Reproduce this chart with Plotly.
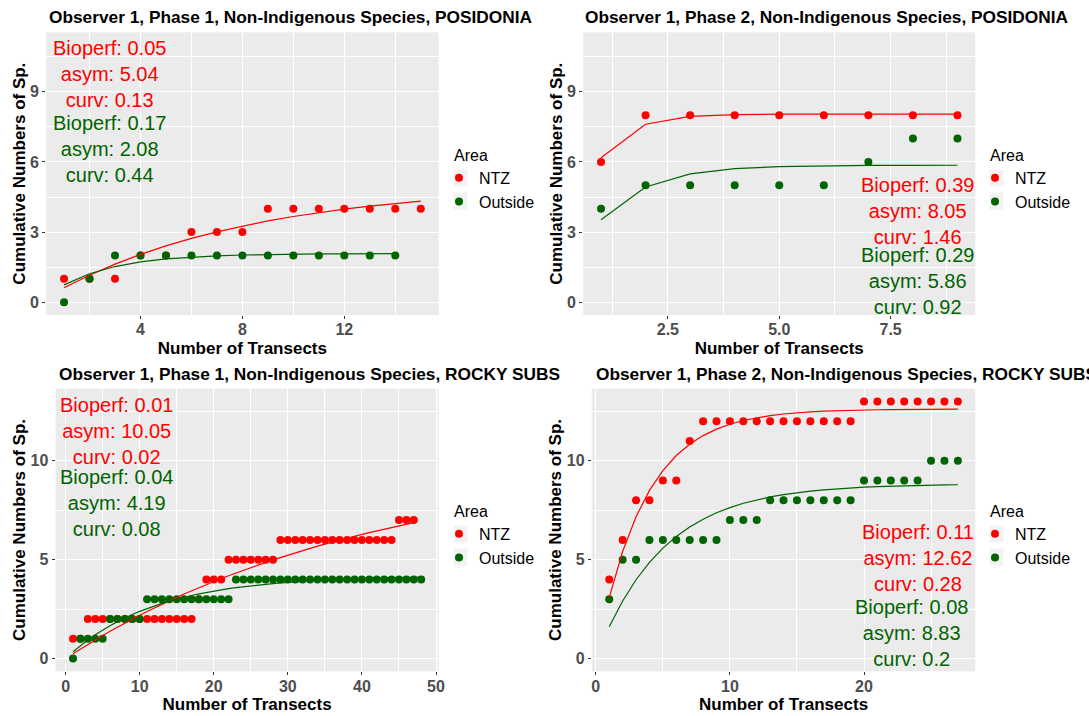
import math
import plotly.graph_objects as go

FONT = "Liberation Sans, Arial, Helvetica, sans-serif"
NTZ_COLOR = "#FF0000"
OUT_COLOR = "#006400"
KEY_BG = "#F2F2F2"
W, H = 1089, 716

# ---------------- data ----------------
# Observer 1, Phase 1, POSIDONIA
p1_ntz_x = [1, 2, 3, 4, 5, 6, 7, 8, 9, 10, 11, 12, 13, 14, 15]
p1_ntz_y = [1, 1, 1, 2, 2, 3, 3, 3, 4, 4, 4, 4, 4, 4, 4]
p1_out_x = [1, 2, 3, 4, 5, 6, 7, 8, 9, 10, 11, 12, 13, 14]
p1_out_y = [0, 1, 2, 2, 2, 2, 2, 2, 2, 2, 2, 2, 2, 2]

# Observer 1, Phase 2, POSIDONIA
p2_ntz_x = [1, 2, 3, 4, 5, 6, 7, 8, 9]
p2_ntz_y = [6, 8, 8, 8, 8, 8, 8, 8, 8]
p2_out_x = [1, 2, 3, 4, 5, 6, 7, 8, 9]
p2_out_y = [4, 5, 5, 5, 5, 5, 6, 7, 7]

# Observer 1, Phase 1, ROCKY SUBS
p3_ntz_x = [1, 2, 3, 4, 5, 6, 7, 8, 9, 10, 11, 12, 13, 14, 15, 16, 17, 18, 19, 20,
            21, 22, 23, 24, 25, 26, 27, 28, 29, 30, 31, 32, 33, 34, 35, 36, 37, 38,
            39, 40, 41, 42, 43, 44, 45, 46, 47]
p3_ntz_y = [1, 1, 2, 2, 2, 2, 2, 2, 2, 2, 2, 2, 2, 2, 2, 2, 2, 3, 4, 4,
            4, 5, 5, 5, 5, 5, 5, 5, 6, 6, 6, 6, 6, 6, 6, 6, 6, 6,
            6, 6, 6, 6, 6, 6, 7, 7, 7]
p3_out_x = [1, 2, 3, 4, 5, 6, 7, 8, 9, 10, 11, 12, 13, 14, 15, 16, 17, 18, 19, 20,
            21, 22, 23, 24, 25, 26, 27, 28, 29, 30, 31, 32, 33, 34, 35, 36, 37, 38,
            39, 40, 41, 42, 43, 44, 45, 46, 47, 48]
p3_out_y = [0, 1, 1, 1, 1, 2, 2, 2, 2, 2, 3, 3, 3, 3, 3, 3, 3, 3, 3, 3,
            3, 3, 4, 4, 4, 4, 4, 4, 4, 4, 4, 4, 4, 4, 4, 4, 4, 4,
            4, 4, 4, 4, 4, 4, 4, 4, 4, 4]

# Observer 1, Phase 2, ROCKY SUBS
p4_ntz_x = [1, 2, 3, 4, 5, 6, 7, 8, 9, 10, 11, 12, 13, 14, 15, 16, 17, 18, 19, 20,
            21, 22, 23, 24, 25, 26, 27]
p4_ntz_y = [4, 6, 8, 8, 9, 9, 11, 12, 12, 12, 12, 12, 12, 12, 12, 12, 12, 12, 12, 13,
            13, 13, 13, 13, 13, 13, 13]
p4_out_x = [1, 2, 3, 4, 5, 6, 7, 8, 9, 10, 11, 12, 13, 14, 15, 16, 17, 18, 19, 20,
            21, 22, 23, 24, 25, 26, 27]
p4_out_y = [3, 5, 5, 6, 6, 6, 6, 6, 6, 7, 7, 7, 8, 8, 8, 8, 8, 8, 8, 9,
            9, 9, 9, 9, 10, 10, 10]

# fitted asymptotic curves: y = asym * (1 - exp(-curv * x))
bioperf_ntz = [0.05, 0.39, 0.01, 0.11]
bioperf_out = [0.17, 0.29, 0.04, 0.08]
asym_ntz = [5.04, 8.05, 10.05, 12.62]
asym_out = [2.08, 5.86, 4.19, 8.83]
curv_ntz = [0.13, 1.46, 0.0245, 0.28]
curv_out = [0.44, 0.92, 0.084, 0.2]

titles = [
    "Observer 1, Phase 1, Non-Indigenous Species, POSIDONIA",
    "Observer 1, Phase 2, Non-Indigenous Species, POSIDONIA",
    "Observer 1, Phase 1, Non-Indigenous Species, ROCKY SUBS",
    "Observer 1, Phase 2, Non-Indigenous Species, ROCKY SUBS",
]
x_title = "Number of Transects"
y_title = "Cumulative Numbers of Sp."
legend_title = "Area"
series_names = ["NTZ", "Outside"]

x_tickvals = [[4, 8, 12], [2.5, 5.0, 7.5], [0, 10, 20, 30, 40, 50], [0, 10, 20]]
x_ticktext = [["4", "8", "12"], ["2.5", "5.0", "7.5"],
              ["0", "10", "20", "30", "40", "50"], ["0", "10", "20"]]
x_minor = [[2, 6, 10, 14], [1.25, 3.75, 6.25, 8.75], [5, 15, 25, 35, 45], [5, 15, 25]]
y_tickvals = [[0, 3, 6, 9], [0, 3, 6, 9], [0, 5, 10], [0, 5, 10]]
y_minor = [[1.5, 4.5, 7.5, 10.5], [1.5, 4.5, 7.5, 10.5], [2.5, 7.5, 12.5], [2.5, 7.5, 12.5]]
x_ranges = [[0.3, 15.7], [0.6, 9.4], [-1.35, 50.35], [-0.3, 28.3]]
y_ranges = [[-0.55, 11.55], [-0.55, 11.55], [-0.65, 13.65], [-0.65, 13.65]]

# text block placement (data coordinates of the middle line of each block)
label_ntz_pos = [(2.78, 9.77), (8.10, 3.89), (6.81, 11.49), (24.0, 5.08)]
label_out_pos = [(2.78, 6.57), (8.10, 0.90), (6.81, 7.89), (23.56, 1.31)]

# ---------------- layout geometry (pixels) ----------------
plot_boxes = [  # left, right, top, bottom
    (46.2, 438.6, 32.3, 315.0),
    (583.2, 975.3, 32.3, 315.0),
    (55.6, 438.6, 388.7, 671.3),
    (591.8, 975.3, 388.7, 671.3),
]
title_pos = [(46.9, 16.7), (583.2, 16.7), (56.7, 373.7), (593.6, 373.7)]
legend_pos = [(452, 140), (988, 140), (452, 496), (988, 496)]
# grey key boxes behind the legend symbols: (centre x, first item y, item step)
legend_keys = [(460.5, 178, 23), (996.5, 178, 23), (460.5, 534, 23), (996.5, 534, 23)]

ntz_sets = [(p1_ntz_x, p1_ntz_y), (p2_ntz_x, p2_ntz_y), (p3_ntz_x, p3_ntz_y), (p4_ntz_x, p4_ntz_y)]
out_sets = [(p1_out_x, p1_out_y), (p2_out_x, p2_out_y), (p3_out_x, p3_out_y), (p4_out_x, p4_out_y)]


def fmt(v):
    return f"{round(v, 2):g}"


def curve(xs, asym, curv):
    return [asym * (1 - math.exp(-curv * x)) for x in xs]


fig = go.Figure()
annotations = []
shapes = []
layout = dict(
    width=W, height=H,
    margin=dict(l=0, r=0, t=0, b=0),
    paper_bgcolor="white",
    plot_bgcolor="#EBEBEB",
    font=dict(family=FONT, color="black"),
)

tickfont = dict(family=FONT, size=16, color="#4D4D4D", weight="bold")
titlefont = dict(family=FONT, size=17, color="black", weight="bold")

for i in range(4):
    n = i + 1
    xa = "x" if n == 1 else f"x{n}"
    ya = "y" if n == 1 else f"y{n}"
    lg = "legend" if n == 1 else f"legend{n}"
    left, right, top, bottom = plot_boxes[i]

    (nx, ny), (ox, oy) = ntz_sets[i], out_sets[i]

    fig.add_trace(go.Scatter(
        x=nx, y=ny, mode="markers", name=series_names[0],
        marker=dict(color=NTZ_COLOR, size=8),
        xaxis=xa, yaxis=ya, legend=lg))
    fig.add_trace(go.Scatter(
        x=ox, y=oy, mode="markers", name=series_names[1],
        marker=dict(color=OUT_COLOR, size=8),
        xaxis=xa, yaxis=ya, legend=lg))
    fig.add_trace(go.Scatter(
        x=nx, y=curve(nx, asym_ntz[i], curv_ntz[i]), mode="lines",
        line=dict(color=NTZ_COLOR, width=1.2), showlegend=False,
        xaxis=xa, yaxis=ya))
    fig.add_trace(go.Scatter(
        x=ox, y=curve(ox, asym_out[i], curv_out[i]), mode="lines",
        line=dict(color=OUT_COLOR, width=1.2), showlegend=False,
        xaxis=xa, yaxis=ya))

    common = dict(
        showgrid=True, gridcolor="white", gridwidth=1.1,
        zeroline=False, showline=False,
        ticks="outside", ticklen=3, tickwidth=1, tickcolor="#333333",
        tickfont=tickfont, automargin=False,
    )
    layout["xaxis" if n == 1 else f"xaxis{n}"] = dict(
        common,
        domain=[left / W, right / W], anchor=ya,
        range=x_ranges[i], tickmode="array",
        tickvals=x_tickvals[i], ticktext=x_ticktext[i],
        ticklabelstandoff=-3,
        minor=dict(tickmode="array", tickvals=x_minor[i], showgrid=True,
                   gridcolor="white", gridwidth=0.55, ticks=""),
        title=dict(text=x_title, font=titlefont, standoff=4),
    )
    layout["yaxis" if n == 1 else f"yaxis{n}"] = dict(
        common,
        domain=[1 - bottom / H, 1 - top / H], anchor=xa,
        range=y_ranges[i], tickmode="array", tickvals=y_tickvals[i],
        minor=dict(tickmode="array", tickvals=y_minor[i], showgrid=True,
                   gridcolor="white", gridwidth=0.55, ticks=""),
        title=dict(text=y_title, font=titlefont, standoff=0),
    )

    lx, ly = legend_pos[i]
    layout[lg] = dict(
        x=lx / W, y=1 - ly / H, xanchor="left", yanchor="top",
        bgcolor="rgba(0,0,0,0)", indentation=-13,
        font=dict(family=FONT, size=16, color="black"),
        title=dict(text=legend_title, font=dict(family=FONT, size=16, color="black")),
        tracegroupgap=0,
    )

    kx, ky, kstep = legend_keys[i]
    for k in range(len(series_names)):
        cy = ky + k * kstep
        shapes.append(dict(
            type="rect", xref="paper", yref="paper", layer="below",
            x0=(kx - 7) / W, x1=(kx + 7) / W,
            y0=1 - (cy + 8.5) / H, y1=1 - (cy - 8.5) / H,
            fillcolor=KEY_BG, line=dict(width=0)))

    tx, ty = title_pos[i]
    annotations.append(dict(
        text=titles[i], xref="paper", yref="paper", x=tx / W, y=1 - ty / H,
        xanchor="left", yanchor="middle", showarrow=False,
        font=dict(family=FONT, size=17.3, color="black", weight="bold")))

    for (px, py), color, bp, a, c in [
        (label_ntz_pos[i], NTZ_COLOR, bioperf_ntz[i], asym_ntz[i], curv_ntz[i]),
        (label_out_pos[i], OUT_COLOR, bioperf_out[i], asym_out[i], curv_out[i]),
    ]:
        annotations.append(dict(
            text=f"Bioperf: {fmt(bp)}<br>asym: {fmt(a)}<br>curv: {fmt(c)}",
            xref=xa, yref=ya, x=px, y=py, xanchor="center", yanchor="middle",
            showarrow=False, align="center",
            font=dict(family=FONT, size=20, color=color)))

layout["annotations"] = annotations
layout["shapes"] = shapes
fig.update_layout(**layout)
fig.write_html("out.html")
